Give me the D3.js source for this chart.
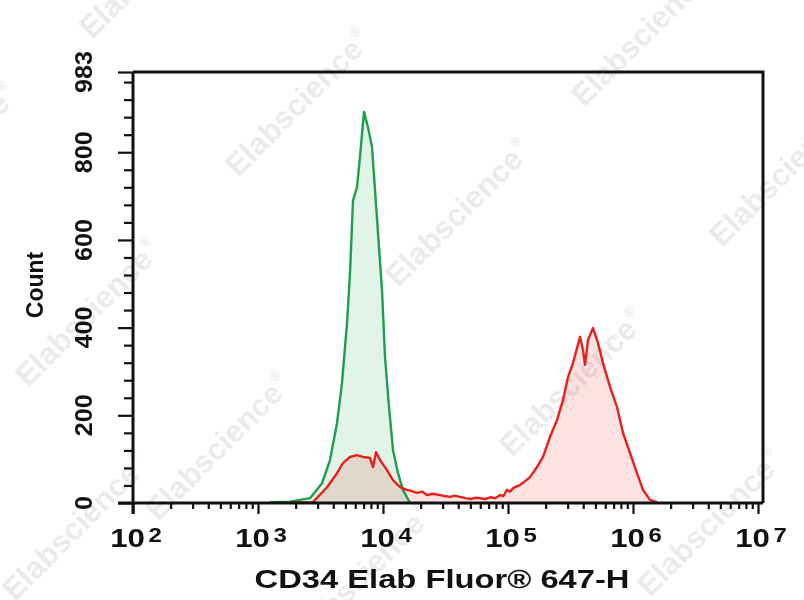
<!DOCTYPE html>
<html>
<head>
<meta charset="utf-8">
<script src="https://cdn.jsdelivr.net/npm/d3@7"></script>
<style>
  html, body { margin: 0; padding: 0; background: #fff; }
  svg { display: block; }
  text { font-family: "Liberation Sans", Arial, sans-serif; }
</style>
</head>
<body>
<svg id="chart" width="804" height="600"></svg>
<script>
// ---- data ----
const xTickExponents = [2, 3, 4, 5, 6, 7];
const yTickValues = [0, 200, 400, 600, 800, 983];
const yMinorStep = 40;

// Isotype control (green)
const greenIntensity = [1247, 1803, 2606, 3251, 3767, 4285, 4699, 5152, 5445, 5754, 6194, 6546, 7047, 7586, 8166, 8630, 9120, 9817, 10375, 11169, 12023, 13183, 14454, 16444];
const greenCount     = [2,    3,    11,   45,   98,   182,  274,  410,  524,  690,  720,  790,  892,  857,  812,  714,  616,  486,  333,   219,   121,   68,    30,    0];

// CD34 stained (red)
const redIntensity = [1803, 2754, 3565, 4285, 4786, 5445, 6194, 6918, 7870, 8318, 8790, 9462, 10765, 12023, 13677, 15560, 17000, 18707, 20500, 22491, 25000, 28576, 31000, 34356, 37500, 41305, 46000, 50000, 55000, 59704, 65000, 72000, 79000, 86298, 92000, 98167, 104000, 110000, 117000, 124738, 137000, 149968, 170608, 190546, 216770, 246604, 275423, 301995, 331131, 376704, 398107, 413047, 436516, 478630, 524807, 575440, 654636, 744732, 831764, 946237, 1076465, 1202264, 1367729, 1555965];
const redCount     = [1,    2,    36,   68,   91,   105,  109,  105,  103,  82,   116,  98,   75,    52,    36,    30,    27,    23,    26,    18,    21,    18,    16,    14,    17,    14,    11,    9,     12,    11,    9,     13,    11,    18,    16,    30,    26,     34,     38,     41,     50,     59,     82,     105,    151,    189,    235,    287,    319,    379,    349,    315,    372,    399,    365,    319,    265,    219,    160,    114,    68,      30,      7,       2];

const xTitle = "CD34 Elab Fluor\u00AE 647-H";
const yTitle = "Count";
const watermark = "Elabscience";
const watermarkStarts = [[92, 40], [-115, 232], [238, 178], [584, 108], [398, 288], [722, 248], [28, 388], [512, 458], [158, 522], [300, 652], [650, 598], [15, 602]];

// ---- layout ----
const svg = d3.select("#chart");
const x = d3.scaleLog().domain([1e2, 1e7]).range([133, 758]);
const y = d3.scaleLinear().domain([0, 983]).range([503, 72]);
const boxRight = 763;

// watermarks (behind everything)
const wm = svg.append("g");
watermarkStarts.forEach(([wx, wy]) => {
  const t = wm.append("text")
    .attr("transform", `translate(${wx},${wy}) rotate(-45)`)
    .attr("fill", "#ebebeb")
    .attr("font-weight", "bold")
    .attr("font-size", 31);
  t.append("tspan").text(watermark);
  t.append("tspan").attr("font-size", 13).attr("dy", -16).attr("dx", 2).text("\u00AE");
});

// histograms
const greenData = greenIntensity.map((v, i) => ({ v, c: greenCount[i] }));
const redData = redIntensity.map((v, i) => ({ v, c: redCount[i] }));
const area = d3.area().x(d => x(d.v)).y0(y(0)).y1(d => y(d.c));
const line = d3.line().x(d => x(d.v)).y(d => y(d.c));

svg.append("path").datum(greenData).attr("d", area).attr("fill", "#e2f4e8");
svg.append("path").datum(redData).attr("d", area).attr("fill", "#fde2e2").style("mix-blend-mode", "multiply");
svg.append("path").datum(greenData).attr("d", line).attr("fill", "none").attr("stroke", "#1f9e4c").attr("stroke-width", 2.4).attr("stroke-linejoin", "round");
svg.append("path").datum(redData).attr("d", line).attr("fill", "none").attr("stroke", "#e8201c").attr("stroke-width", 2.4).attr("stroke-linejoin", "round");

// box top and right
svg.append("path")
  .attr("d", `M${x(1e2)},${y(983)}H${boxRight}V${y(0)}`)
  .attr("fill", "none").attr("stroke", "#111").attr("stroke-width", 3);

// x axis
const majorX = xTickExponents.map(e => Math.pow(10, e));
const minorX = [];
xTickExponents.slice(0, -1).forEach(e => { for (let m = 2; m <= 9; m++) minorX.push(m * Math.pow(10, e)); });

const xMinorAxis = svg.append("g").attr("transform", `translate(0,${y(0)})`)
  .call(d3.axisBottom(x).tickValues(minorX).tickSize(6).tickFormat(""));
const xMajorAxis = svg.append("g").attr("transform", `translate(0,${y(0)})`)
  .call(d3.axisBottom(x).tickValues(majorX).tickSize(11).tickFormat(""));
[xMinorAxis, xMajorAxis].forEach(g => {
  g.select(".domain").remove();
  g.selectAll(".tick line").attr("stroke", "#111").attr("stroke-width", 2.2);
});
svg.append("line").attr("x1", 118).attr("x2", boxRight).attr("y1", y(0)).attr("y2", y(0))
  .attr("stroke", "#111").attr("stroke-width", 3);

// x tick labels (wide bold face: horizontally stretched)
majorX.forEach((v, i) => {
  const g = svg.append("g").attr("transform", `translate(${x(v) + 3},547) scale(1.2,1)`);
  const t = g.append("text")
    .attr("text-anchor", "middle")
    .attr("font-weight", "bold").attr("fill", "#111")
    .attr("font-size", 26);
  t.append("tspan").text("10");
  t.append("tspan").attr("font-size", 20).attr("dy", -5).attr("dx", 3).text(String(xTickExponents[i]));
});

// y axis
const minorY = d3.range(yMinorStep, 983, yMinorStep).filter(v => v % 200 !== 0);
const yMinorAxis = svg.append("g").attr("transform", `translate(${x(1e2)},0)`)
  .call(d3.axisLeft(y).tickValues(minorY).tickSize(9).tickFormat(""));
const yMajorAxis = svg.append("g").attr("transform", `translate(${x(1e2)},0)`)
  .call(d3.axisLeft(y).tickValues(yTickValues).tickSize(15).tickFormat(""));
[yMinorAxis, yMajorAxis].forEach(g => {
  g.select(".domain").remove();
  g.selectAll(".tick line").attr("stroke", "#111").attr("stroke-width", 2.2);
});
svg.append("line").attr("x1", x(1e2)).attr("x2", x(1e2)).attr("y1", y(983)).attr("y2", y(0) + 11)
  .attr("stroke", "#111").attr("stroke-width", 3);

// y tick labels (tall narrow digits)
yTickValues.forEach(v => {
  const s = String(v);
  svg.append("text")
    .attr("transform", `translate(92,${y(v)}) rotate(-90)`)
    .attr("text-anchor", "middle")
    .attr("font-weight", "bold").attr("fill", "#111")
    .attr("font-size", 23)
    .attr("textLength", s.length * 14).attr("lengthAdjust", "spacingAndGlyphs")
    .text(s);
});

// axis titles
svg.append("text")
  .attr("transform", `translate(43,285) rotate(-90)`)
  .attr("text-anchor", "middle")
  .attr("font-weight", "bold").attr("fill", "#111")
  .attr("font-size", 23)
  .text(yTitle);

svg.append("text")
  .attr("x", 442).attr("y", 588)
  .attr("text-anchor", "middle")
  .attr("font-weight", "bold").attr("fill", "#111")
  .attr("font-size", 25)
  .attr("textLength", 375).attr("lengthAdjust", "spacingAndGlyphs")
  .text(xTitle);
</script>
</body>
</html>
